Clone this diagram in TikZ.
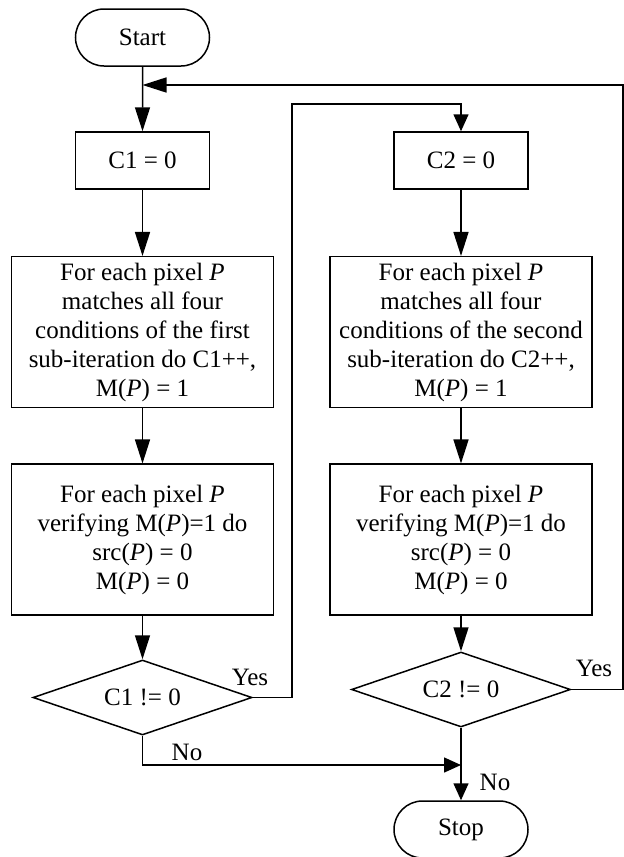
\documentclass[tikz,border=0pt]{standalone}
\usepackage{fontspec}
\setmainfont{Liberation Serif}
\usetikzlibrary{shapes.misc,shapes.geometric,arrows.meta}

\begin{document}
\begin{tikzpicture}[x=1pt,y=-1pt,
  line width=1.5pt,
  every node/.style={font=\fontsize{25}{29}\selectfont, inner sep=0pt},
  term/.style={draw, rounded rectangle, minimum width=134pt, minimum height=57pt},
  smallbox/.style={draw, minimum width=134pt, minimum height=57pt},
  bigbox/.style={draw, align=center, minimum width=262pt, minimum height=151pt},
  decision/.style={draw, diamond, aspect=2.92, minimum width=219pt, minimum height=75pt},
  arr/.style={-{Triangle[length=24pt,width=15pt]}},
  arrs/.style={-{Triangle[length=17pt,width=15pt]}}
]
\fill[white] (0,0) rectangle (624,857);
\useasboundingbox (0,0) rectangle (624,857);

% first sub-iteration column
\node[term] (start) at (142.5,37.5) {Start};
\node[smallbox] (c1) at (142.5,160.5) {C1 = 0};
\node[bigbox] (b1) at (142.5,332.2) {For each pixel \textit{P}\\matches all four\\conditions of the first\\sub-iteration do C1++,\\M(\textit{P}) = 1};
\node[bigbox] (b3) at (142.5,539.7) {For each pixel \textit{P}\\verifying M(\textit{P})=1 do\\src(\textit{P}) = 0\\M(\textit{P}) = 0};
\node[decision] (d1) at (142.5,697.5) {C1 != 0};

% second sub-iteration column
\node[smallbox] (c2) at (461,160.5) {C2 = 0};
\node[bigbox] (b2) at (461,332.2) {For each pixel \textit{P}\\matches all four\\conditions of the second\\sub-iteration do C2++,\\M(\textit{P}) = 1};
\node[bigbox] (b4) at (461,539.7) {For each pixel \textit{P}\\verifying M(\textit{P})=1 do\\src(\textit{P}) = 0\\M(\textit{P}) = 0};
\node[decision] (d2) at (461,689.5) {C2 != 0};
\node[term] (stop) at (461,829.5) {Stop};

% routing points
\coordinate (loopR) at (623,85);
\coordinate (merge) at (142.5,85);
\coordinate (yes1) at (292,697.5);
\coordinate (top2) at (292,104);
\coordinate (no1) at (142.5,765);
\coordinate (join) at (461,765);

% vertical flow
\draw[arr] (start) -- (c1);
\draw[arr] (c1) -- (b1);
\draw[arr] (b1) -- (b3);
\draw[arr] (b3) -- (d1);
\draw[arr] (c2) -- (b2);
\draw[arr] (b2) -- (b4);
\draw[arr] (b4) -- (d2);
\draw[arrs] (d2) -- (stop);

% branches
\draw[arrs] (d1.east) -- (yes1) -- (top2) -| (c2.north);
\draw[arr] (d2.east) -| (loopR) -- (merge);
\draw[arrs] (d1.south) -- (no1) -- (join);

% branch labels
\node (yesA) at (250,677) {Yes};
\node (noA) at (187,752) {No};
\node (yesB) at (594,668) {Yes};
\node (noB) at (495,782) {No};
\end{tikzpicture}
\end{document}
